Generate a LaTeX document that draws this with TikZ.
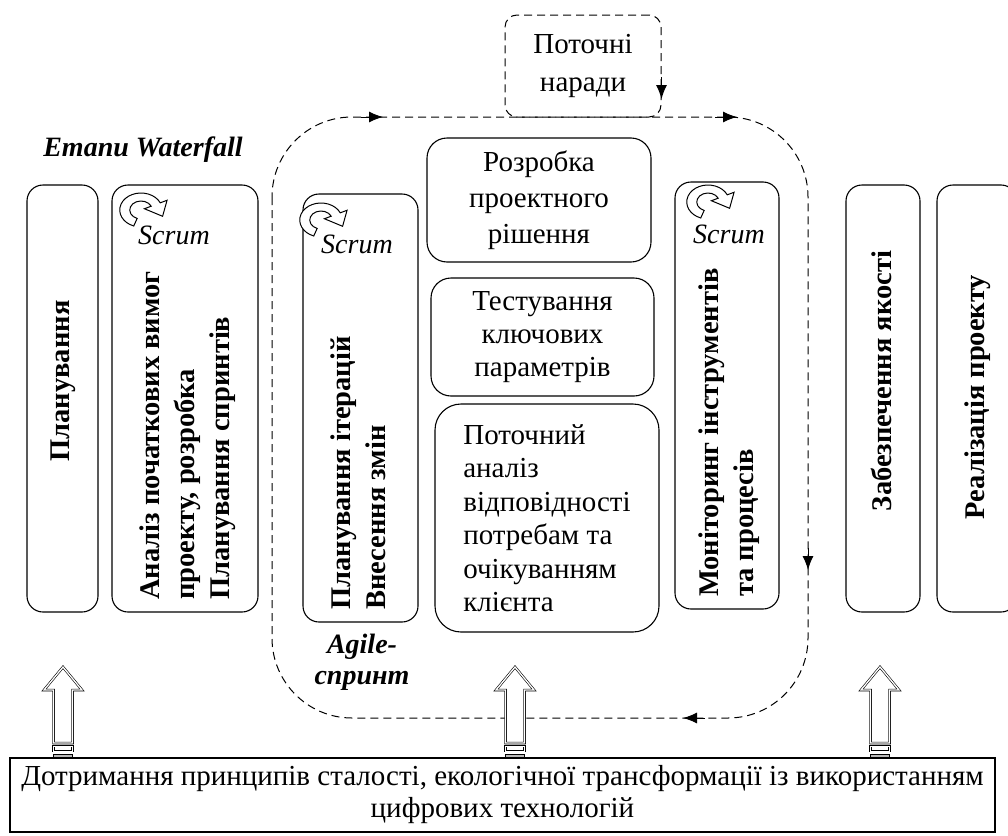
\documentclass[tikz,border=0pt]{standalone}
\usepackage{fontspec}
\setmainfont{Liberation Serif}
\usetikzlibrary{arrows.meta}
\tikzset{
  rbox/.style={draw, line width=1.1pt, rounded corners=16pt, inner sep=0pt},
  body/.style={font=\fontsize{29}{33}\selectfont, align=center},
  vtext/.style={rotate=90, font=\fontsize{28.5}{35}\selectfont\bfseries, align=left, inner sep=0pt},
  scrumlbl/.style={font=\fontsize{28}{32}\selectfont\itshape, inner sep=0pt},
  loopline/.style={line width=1pt, dash pattern=on 8pt off 5pt},
  looptip/.style={-{Latex[length=14pt,width=11pt]}, line width=1pt},
  scrumicon/.pic={
    \begin{scope}[xscale=1.25]
    \draw[line width=1pt, fill=white] (250:17) arc[start angle=250, end angle=25, radius=17]
      -- (25:23) -- (17.27,-6.29) -- (25:3) -- (25:9)
      arc[start angle=25, end angle=250, radius=9] -- cycle;
    \end{scope}
  },
  blockup/.pic={
    \draw[line width=0.6pt, double, double distance=1.3pt, fill=white]
      (0,0) -- (19,-23) -- (9.5,-23) -- (9.5,-76) -- (-9.5,-76) -- (-9.5,-23) -- (-19,-23) -- cycle;
    \draw[line width=0.6pt, double, double distance=1pt, fill=white] (-9.5,-79) rectangle (9.5,-84);
    \draw[line width=0.6pt, fill=gray!55] (-9.5,-87) rectangle (9.5,-90.5);
  }
}
\begin{document}
\begin{tikzpicture}[x=1pt, y=1pt]
\useasboundingbox (0,0) rectangle (1008,-835);

% agile loop
\draw[loopline, rounded corners=80pt] (272,-117) rectangle (808,-718);
\draw[looptip] (361,-117) -- (383,-117);
\draw[looptip] (715,-117) -- (737,-117);
\draw[looptip] (808,-548) -- (808,-570);
\draw[looptip] (705,-718) -- (683,-718);

% meetings box
\node[draw, loopline, rounded corners=12pt, minimum width=156pt, minimum height=102pt,
      body, font=\fontsize{29}{38}\selectfont] (meet) at (583,-66) {Поточні\\наради};
\draw[looptip] (meet.east |- 0,-77) -- (meet.east |- 0,-99);

% title
\node[font=\fontsize{28}{32}\selectfont\bfseries\itshape] (wf) at (143,-150) {Етапи Waterfall};

% waterfall boxes
\node[rbox, minimum width=71pt, minimum height=427pt] (plan) at (62.5,-398.5) {};
\node[vtext] (planT) at (63,-381) {Планування};

\node[rbox, minimum width=146pt, minimum height=427pt] (anal) at (185,-398.5) {};
\node[vtext, anchor=west] (analT) at (187.5,-600) {Аналіз початкових вимог\\проекту, розробка\\Планування спринтів};
\pic at (141,-210) {scrumicon};
\node[scrumlbl] (analS) at (174,-235) {Scrum};

% agile inner boxes
\node[rbox, minimum width=115pt, minimum height=428pt] (iter) at (360.5,-408) {};
\node[vtext, anchor=west] (iterT) at (358.5,-610) {Планування ітерацій\\Внесення змін};
\pic at (321,-220) {scrumicon};
\node[scrumlbl] (iterS) at (357,-244) {Scrum};

\node[rbox, rounded corners=20pt, minimum width=224pt, minimum height=124pt, body,
      font=\fontsize{29}{36}\selectfont] (dev) at (539,-200) {Розробка\\проектного\\рішення};
\node[rbox, rounded corners=20pt, minimum width=223pt, minimum height=118pt, body] (test) at (542.5,-337) {Тестування\\ключових\\параметрів};
\node[rbox, rounded corners=26pt, minimum width=224pt, minimum height=228pt, body, align=left,
      font=\fontsize{29}{33.5}\selectfont] (cur) at (547,-518) {Поточний\\аналіз\\відповідності\\потребам та\\очікуванням\\клієнта};

\node[rbox, minimum width=104pt, minimum height=427pt] (mon) at (727,-395.5) {};
\node[vtext, anchor=west] (monT) at (729,-597) {Моніторинг інструментів\\та процесів};
\pic at (708,-202) {scrumicon};
\node[scrumlbl] (monS) at (729,-234) {Scrum};

\node[font=\fontsize{28}{31}\selectfont\bfseries\itshape, align=center] (agile) at (362,-662) {Agile-\\спринт};

% right boxes
\node[rbox, minimum width=74pt, minimum height=427pt] (qa) at (883,-398.5) {};
\node[vtext] (qaT) at (881,-381) {Забезпечення якості};
\node[rbox, minimum width=80pt, minimum height=427pt] (impl) at (977,-398.5) {};
\node[vtext] (implT) at (978,-397) {Реалізація проекту};

% bottom box
\node[draw, line width=1.1pt, minimum width=985pt, minimum height=74pt, inner sep=0pt, body,
      font=\fontsize{29}{32}\selectfont] (base) at (502.5,-795) {Дотримання принципів сталості, екологічної трансформації із використанням\\цифрових технологій};

% block arrows
\pic at (63,-667) {blockup};
\pic at (515,-667) {blockup};
\pic at (880,-667) {blockup};
\end{tikzpicture}
\end{document}
